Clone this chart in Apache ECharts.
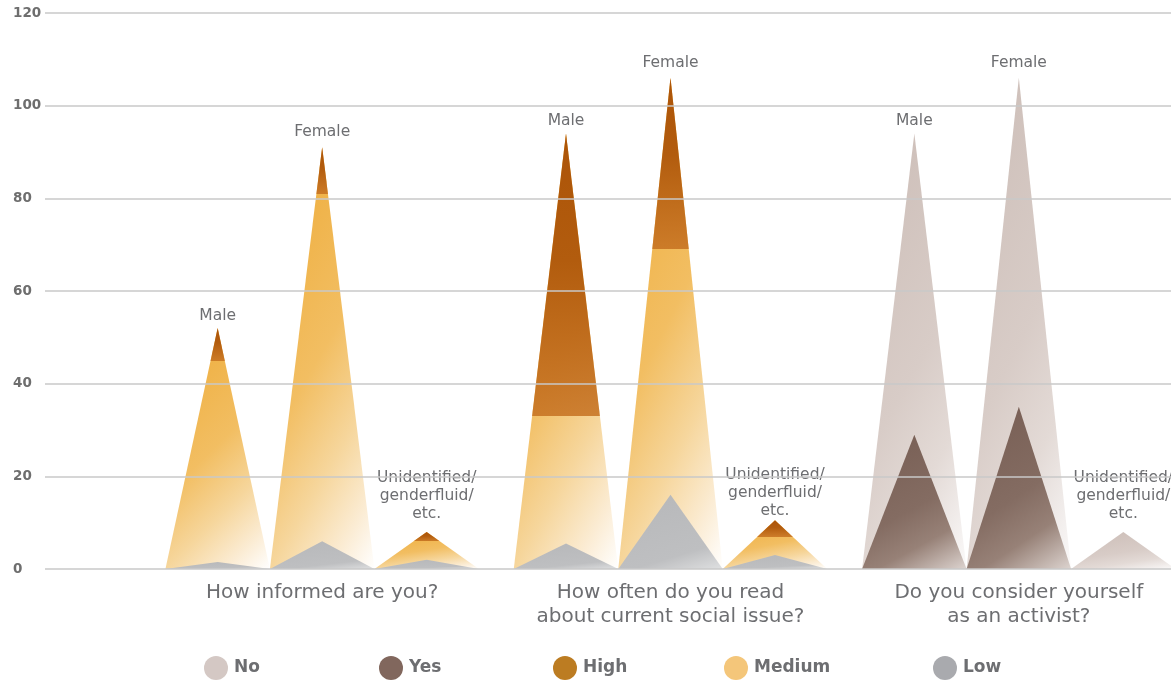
<!DOCTYPE html>
<html>
<head>
<meta charset="utf-8">
<script src="https://cdn.jsdelivr.net/npm/echarts@6/dist/echarts.min.js"></script>
<style>
html,body{margin:0;padding:0;background:#fff;}
#chart{width:1171px;height:682px;}
</style>
</head>
<body>
<div id="chart"></div>
<script>
// ---- data ----
const categories = ['How informed are you?', 'How often do you read\nabout current social issue?', 'Do you consider yourself\nas an activist?'];
const genderLabels = ['Male', 'Female', 'Unidentified/\ngenderfluid/\netc.'];
const legendNames = ['No', 'Yes', 'High', 'Medium', 'Low'];

const informedHigh   = [7, 10, 2];
const informedMedium = [45, 81, 6];
const informedLow    = [1.5, 6, 2];

const readingHigh    = [61, 37, 3.5];
const readingMedium  = [33, 69, 7];
const readingLow     = [5.5, 16, 3];

const activistNo     = [94, 106, 8];
const activistYes    = [29, 35, 0];

const yMin = 0, yMax = 120, yStep = 20;

// ---- styles ----
const textColor = '#6d6e71';
const legendColors = ['#d4c8c4', '#81675d', '#bc7c22', '#f4c67a', '#a9aaae'];
const legendLefts = [199, 374, 548, 719, 928];
const labelDist = [3, 6, 9];
const labelDistQ2 = [3, 6, 0];

// diagonal fade: strongest at the apex, lightest at the bottom-right corner
function diag(stops) {
  return { type: 'linear', x: 0.5, y: 0, x2: 0.936, y2: 1.027,
    colorStops: stops.map(s => ({ offset: s[0], color: s[1] })) };
}
const medStops = [[0, '#efb043'], [0.4, '#f2be62'], [0.65, '#f6d69c'], [0.85, '#fbecd4'], [1, '#ffffff']];
const noStops  = [[0, '#cfc1bb'], [0.45, '#d8ccc7'], [0.7, '#e3dad6'], [1, '#fbfafa']];
const yesStops = [[0, '#7a6157'], [0.45, '#846c62'], [0.7, '#978177'], [1, '#ddd4d0']];
const lowStops = [[0, '#b8b9bb'], [0.7, '#bebfc1'], [1, '#dfe0e1']];

function highGrad(f) {
  return { type: 'linear', x: 0, y: 0, x2: 0, y2: 1, colorStops: [
    { offset: 0, color: 'rgba(172,84,8,1)' },
    { offset: f * 0.45, color: 'rgba(178,92,14,1)' },
    { offset: f, color: 'rgba(196,110,30,0.82)' },
    { offset: f, color: 'rgba(255,255,255,0)' },
    { offset: 1, color: 'rgba(255,255,255,0)' }
  ] };
}

const baseBar = {
  type: 'pictorialBar',
  symbol: 'triangle',
  symbolSize: ['100%', '100%'],
  barWidth: '30%',
  barGap: '0%',
  yAxisIndex: 0,
  emphasis: { disabled: true }
};

const series = [];
genderLabels.forEach((g, i) => {
  const tot1 = informedMedium[i] + informedHigh[i];
  const tot2 = readingMedium[i] + readingHigh[i];
  series.push(Object.assign({}, baseBar, {
    name: 'shape-' + i, xAxisIndex: 0, z: 2,
    label: {
      show: true, position: 'top', distance: labelDist[i], formatter: g,
      fontFamily: 'DejaVu Sans', fontSize: 15.5, lineHeight: 18, color: textColor
    },
    data: [
      { value: tot1, itemStyle: { color: diag(medStops) } },
      { value: tot2, itemStyle: { color: diag(medStops) }, label: { distance: labelDistQ2[i] } },
      { value: activistNo[i], itemStyle: { color: diag(noStops) } }
    ]
  }));
  series.push(Object.assign({}, baseBar, {
    name: 'high-' + i, xAxisIndex: 1, z: 3, silent: true,
    data: [
      { value: tot1, itemStyle: { color: highGrad(informedHigh[i] / tot1) } },
      { value: tot2, itemStyle: { color: highGrad(readingHigh[i] / tot2) } },
      '-'
    ]
  }));
  series.push(Object.assign({}, baseBar, {
    name: 'base-' + i, xAxisIndex: 2, z: 4,
    data: [
      { value: informedLow[i], itemStyle: { color: diag(lowStops) } },
      { value: readingLow[i], itemStyle: { color: diag(lowStops) } },
      { value: activistYes[i], itemStyle: { color: diag(yesStops) } }
    ]
  }));
});

legendNames.forEach((n, k) => {
  series.push({ type: 'scatter', name: n, xAxisIndex: 0, yAxisIndex: 0, data: [],
    itemStyle: { color: legendColors[k], opacity: 1 } });
});

const legends = legendNames.map((n, k) => ({
  data: [n], left: legendLefts[k], top: 651, icon: 'circle',
  itemWidth: 26, itemHeight: 24, selectedMode: false,
  itemStyle: { opacity: 1, color: legendColors[k] },
  textStyle: { fontFamily: 'DejaVu Sans', fontWeight: 'bold', fontSize: 17, color: textColor }
}));

const hiddenCat = (gi) => ({ type: 'category', gridIndex: gi, data: categories, show: false });

const option = {
  animation: false,
  backgroundColor: '#ffffff',
  legend: legends,
  grid: [
    { left: 148, right: -22, top: 13, bottom: 113, containLabel: false, outerBoundsMode: 'none' },
    { left: 45, right: 0, top: 13, bottom: 113, containLabel: false, outerBoundsMode: 'none' }
  ],
  xAxis: [
    { type: 'category', gridIndex: 0, data: categories,
      axisLine: { show: false }, axisTick: { show: false },
      axisLabel: { interval: 0, margin: 12, fontFamily: 'DejaVu Sans', fontSize: 20, lineHeight: 24, color: textColor } },
    hiddenCat(0),
    hiddenCat(0),
    hiddenCat(1)
  ],
  yAxis: [
    { type: 'value', gridIndex: 0, min: yMin, max: yMax, interval: yStep, show: false },
    { type: 'value', gridIndex: 1, min: yMin, max: yMax, interval: yStep, z: 10,
      axisLine: { show: false }, axisTick: { show: false },
      axisLabel: { align: 'left', margin: 32, padding: [5, 0, 0, 0], fontFamily: 'DejaVu Sans', fontWeight: 'bold', fontSize: 13.5, color: '#6e6e6e' },
      splitLine: { lineStyle: { color: '#c8c8c8', width: 1.5 } } }
  ],
  series: series
};

const chart = echarts.init(document.getElementById('chart'), null, { renderer: 'canvas' });
chart.setOption(option);
</script>
</body>
</html>
